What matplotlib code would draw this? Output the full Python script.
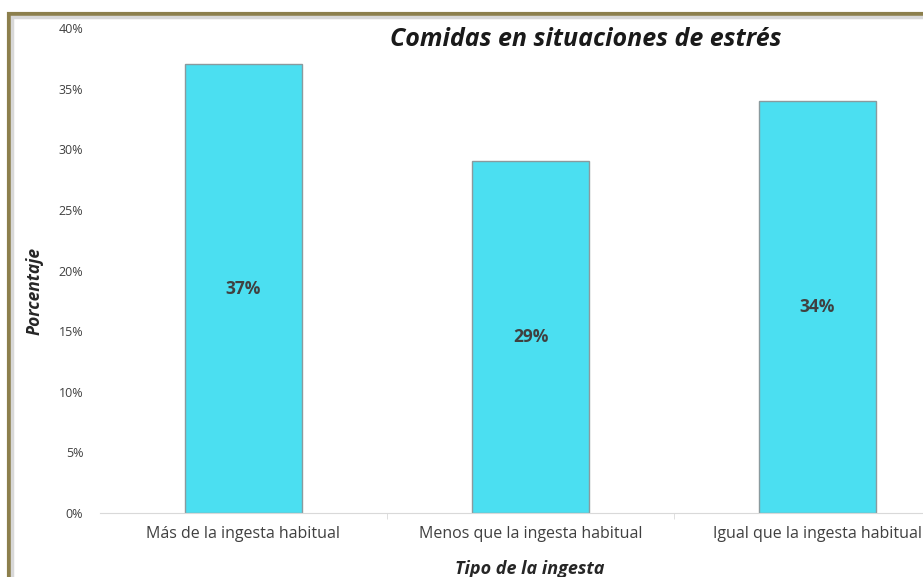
import matplotlib.pyplot as plt
from matplotlib.patches import Rectangle
from matplotlib.ticker import FuncFormatter, FixedLocator

categorias = ['Más de la ingesta habitual', 'Menos que la ingesta habitual', 'Igual que la ingesta habitual']
porcentajes = [37, 29, 34]
etiquetas = ['37%', '29%', '34%']

plt.rcParams['font.family'] = ['Open Sans', 'DejaVu Sans']

fig = plt.figure(figsize=(9.23, 5.77), dpi=100)
fig.patch.set_facecolor('white')

# marco del grafico
marco = Rectangle((9 / 923, -0.05), 1.2, 1 - 14 / 577 + 0.05, transform=fig.transFigure,
                  fill=False, edgecolor='#8c7f4c', linewidth=3, zorder=0)
fig.patches.append(marco)
sombra = Rectangle((12 / 923, -0.05), 1.2, 1 - 17 / 577 + 0.05, transform=fig.transFigure,
                   fill=False, edgecolor='#d8d8d8', linewidth=2.5, zorder=0)
fig.patches.append(sombra)

ax = fig.add_axes([100 / 923, 1 - 513 / 577, 861 / 923, 485 / 577])
ax.patch.set_alpha(0)

x = range(len(categorias))
barras = ax.bar(x, porcentajes, width=0.41, color='#4bdff1', edgecolor='#8a9a9e', linewidth=1)

for b, txt in zip(barras, etiquetas):
    ax.text(b.get_x() + b.get_width() / 2, b.get_height() / 2, txt,
            ha='center', va='center', fontsize=12.5, fontweight='bold', color='#404040')

ax.set_xlim(-0.5, 2.5)
ax.set_ylim(0, 40)
ax.set_yticks(range(0, 41, 5))
ax.yaxis.set_major_formatter(FuncFormatter(lambda v, p: f'{int(v)}%'))
ax.tick_params(axis='y', length=0, pad=12, labelsize=9, labelcolor='#404040')

ax.set_xticks(list(x))
ax.set_xticklabels(categorias, fontsize=11.5, color='#404040')
ax.xaxis.set_minor_locator(FixedLocator([0.5, 1.5]))
ax.tick_params(axis='x', which='major', length=0, pad=9)
ax.tick_params(axis='x', which='minor', length=4, color='#d9d9d9')

for lado in ['top', 'right', 'left']:
    ax.spines[lado].set_visible(False)
ax.spines['bottom'].set_color('#d9d9d9')

fig.text(586 / 923, 1 - 40 / 577, 'Comidas en situaciones de estrés', ha='center', va='center',
         fontsize=18, fontweight='bold', fontstyle='italic', color='#1a1a1a')
fig.text(35 / 923, 1 - 291 / 577, 'Porcentaje', rotation=90, ha='center', va='center',
         fontsize=12.5, fontweight='bold', fontstyle='italic', color='#262626')
fig.text(530 / 923, 1 - 569 / 577, 'Tipo de la ingesta', ha='center', va='center',
         fontsize=13, fontweight='bold', fontstyle='italic', color='#262626')

fig.savefig('out.png', dpi=100)
